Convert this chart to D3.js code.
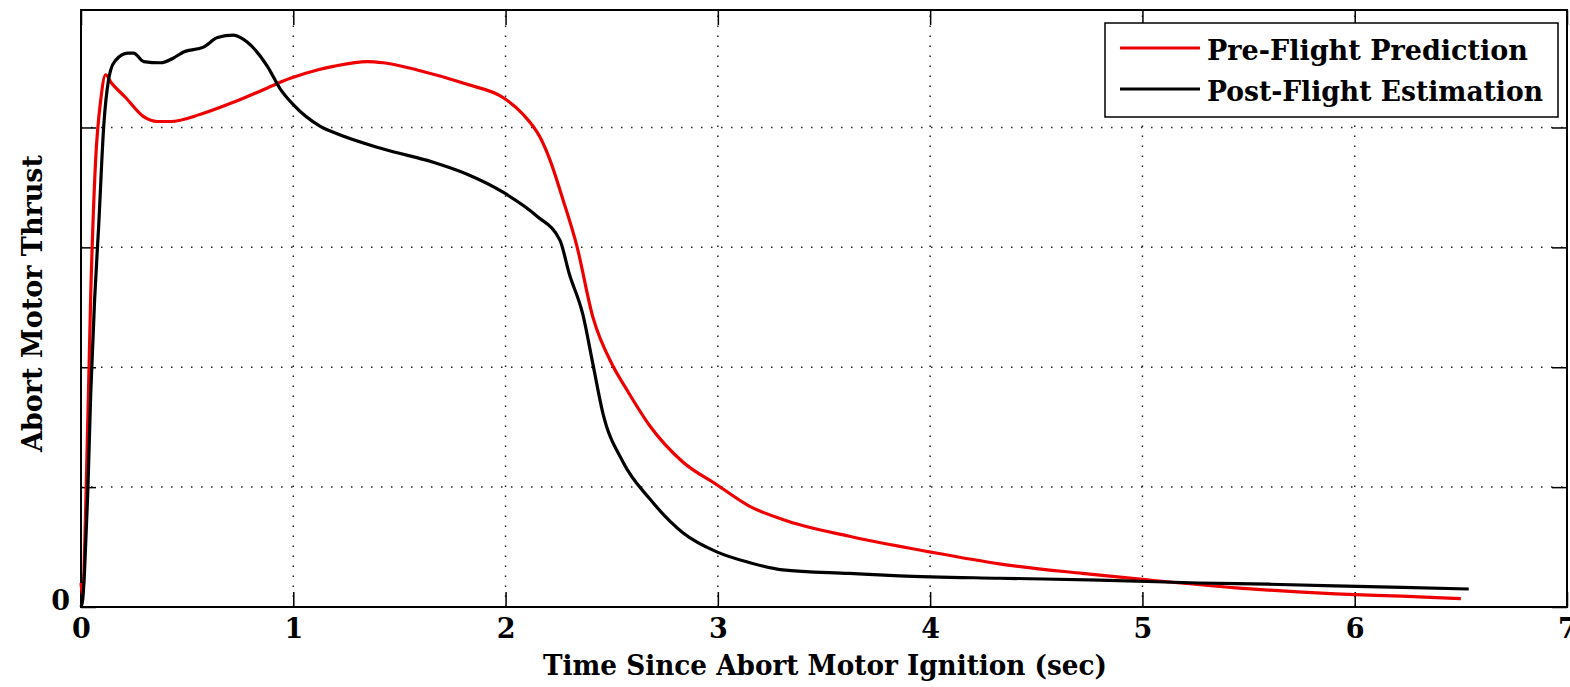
<!DOCTYPE html>
<html>
<head>
<meta charset="utf-8">
<script src="https://cdn.jsdelivr.net/npm/d3@7"></script>
<style>
  body { margin: 0; background: #fff; }
  text { font-family: "DejaVu Serif", "Liberation Serif", serif; font-weight: bold; fill: #000; }
</style>
</head>
<body>
<script>
// chart size
const W = 1570;
const H = 687;
const margin = { left: 81, right: 3, top: 10, bottom: 80 };

// Pre-Flight Prediction (time sec, thrust)
const preTime = [0.0, 0.008, 0.022, 0.046, 0.069, 0.093, 0.116, 0.140, 0.210, 0.295, 0.360, 0.422, 0.563, 0.718, 0.878, 0.986, 1.113, 1.189, 1.348, 1.424, 1.584, 1.819, 1.988, 2.082, 2.162, 2.209, 2.270, 2.336, 2.411, 2.506, 2.572, 2.680, 2.835, 2.995, 3.150, 3.305, 3.620, 3.997, 4.326, 4.717, 5.0, 5.44, 5.91, 6.22, 6.50];
const preThrust = [0.2, 0.11, 0.81, 2.62, 3.73, 4.23, 4.44, 4.38, 4.25, 4.09, 4.05, 4.05, 4.11, 4.21, 4.33, 4.41, 4.48, 4.51, 4.55, 4.54, 4.48, 4.36, 4.25, 4.11, 3.92, 3.73, 3.40, 3.01, 2.42, 2.01, 1.81, 1.51, 1.21, 1.02, 0.84, 0.73, 0.59, 0.46, 0.36, 0.28, 0.23, 0.16, 0.11, 0.09, 0.07];

// Post-Flight Estimation (time sec, thrust)
const postTime = [0.0, 0.008, 0.017, 0.032, 0.046, 0.064, 0.083, 0.107, 0.130, 0.140, 0.163, 0.220, 0.248, 0.295, 0.375, 0.436, 0.483, 0.577, 0.643, 0.718, 0.784, 0.878, 0.939, 1.0, 1.127, 1.189, 1.424, 1.659, 1.819, 1.988, 2.148, 2.256, 2.300, 2.364, 2.411, 2.458, 2.553, 2.680, 2.835, 2.995, 3.150, 3.305, 3.620, 3.855, 4.326, 4.796, 5.267, 5.596, 6.066, 6.537];
const postThrust = [0.0, 0.06, 0.31, 0.96, 1.79, 2.56, 3.17, 4.01, 4.40, 4.48, 4.56, 4.62, 4.62, 4.55, 4.54, 4.58, 4.63, 4.67, 4.75, 4.77, 4.71, 4.51, 4.32, 4.19, 4.01, 3.96, 3.82, 3.71, 3.61, 3.46, 3.26, 3.06, 2.78, 2.44, 2.03, 1.62, 1.21, 0.90, 0.62, 0.46, 0.37, 0.31, 0.28, 0.26, 0.24, 0.225, 0.20, 0.19, 0.17, 0.15];

const xTicks = [0, 1, 2, 3, 4, 5, 6, 7];
const yTicks = [0, 1, 2, 3, 4];
const yLabels = ["0"];
const seriesNames = ["Pre-Flight Prediction", "Post-Flight Estimation"];
const seriesColors = ["#ee0000", "#000000"];

const svg = d3.select("body").append("svg").attr("width", W).attr("height", H);

const x = d3.scaleLinear().domain([0, 7]).range([margin.left, W - margin.right]);
const y = d3.scaleLinear().domain([0, 4.98]).range([H - margin.bottom, margin.top]);

const x0 = x(0), x1 = x(7), y0 = y(0), y1 = y(4.98);

// grid (dotted)
const grid = svg.append("g");
grid.selectAll("line.gx")
  .data(xTicks.slice(1, -1))
  .enter()
  .append("line")
  .attr("x1", (d) => x(d)).attr("x2", (d) => x(d))
  .attr("y1", y0).attr("y2", y1)
  .attr("stroke", "#222").attr("stroke-width", 1.5)
  .attr("stroke-dasharray", "1.5,8.5");
grid.selectAll("line.gy")
  .data(yTicks.slice(1))
  .enter()
  .append("line")
  .attr("x1", x0).attr("x2", x1)
  .attr("y1", (d) => y(d)).attr("y2", (d) => y(d))
  .attr("stroke", "#222").attr("stroke-width", 1.5)
  .attr("stroke-dasharray", "1.5,8.5");

// axes, ticks point inward, mirrored on top / right
svg.append("g")
  .attr("transform", `translate(0,${y0})`)
  .call(d3.axisBottom(x).tickValues(xTicks).tickSize(-15).tickPadding(26).tickFormat(d3.format("d")))
  .call((g) => g.select(".domain").remove())
  .call((g) => g.selectAll("text").attr("font-size", 27).attr("dy", "0.2em"));
svg.append("g")
  .attr("transform", `translate(0,${y1})`)
  .call(d3.axisTop(x).tickValues(xTicks).tickSize(-15).tickFormat(""))
  .call((g) => g.select(".domain").remove());
svg.append("g")
  .attr("transform", `translate(${x0},0)`)
  .call(d3.axisLeft(y).tickValues(yTicks).tickSize(-15).tickPadding(11)
    .tickFormat((d, i) => yLabels[i] || ""))
  .call((g) => g.select(".domain").remove())
  .call((g) => g.selectAll("text").attr("font-size", 27).attr("dy", "0.1em"));
svg.append("g")
  .attr("transform", `translate(${x1},0)`)
  .call(d3.axisRight(y).tickValues(yTicks).tickSize(-15).tickFormat(""))
  .call((g) => g.select(".domain").remove());
svg.selectAll(".tick line").attr("stroke", "#000").attr("stroke-width", 1.5);

// frame
svg.append("rect")
  .attr("x", x0).attr("y", y1)
  .attr("width", x1 - x0).attr("height", y0 - y1)
  .attr("fill", "none").attr("stroke", "#000").attr("stroke-width", 2);

// curves
const line = d3.line().x((d) => x(d[0])).y((d) => y(d[1])).curve(d3.curveMonotoneX);
const series = [
  d3.zip(preTime, preThrust),
  d3.zip(postTime, postThrust)
];
svg.selectAll("path.curve")
  .data(series)
  .enter()
  .append("path")
  .attr("class", "curve")
  .attr("d", line)
  .attr("fill", "none")
  .attr("stroke", (d, i) => seriesColors[i])
  .attr("stroke-width", 3.2)
  .attr("stroke-linejoin", "round");

// legend
const lg = svg.append("g");
lg.append("rect")
  .attr("x", 1105).attr("y", 23).attr("width", 453).attr("height", 94)
  .attr("fill", "#fff").attr("stroke", "#000").attr("stroke-width", 1.5);
const legendWidths = [321, 336];
seriesNames.forEach((name, i) => {
  const ly = 48 + i * 41;
  lg.append("line")
    .attr("x1", 1120).attr("x2", 1200).attr("y1", ly).attr("y2", ly)
    .attr("stroke", seriesColors[i]).attr("stroke-width", 3.2);
  lg.append("text")
    .attr("x", 1207).attr("y", ly + 12)
    .attr("font-size", 27)
    .attr("textLength", legendWidths[i])
    .attr("lengthAdjust", "spacingAndGlyphs")
    .text(name);
});

// axis titles
svg.append("text")
  .attr("x", 543).attr("y", 675)
  .attr("font-size", 28)
  .attr("textLength", 564)
  .attr("lengthAdjust", "spacingAndGlyphs")
  .text("Time Since Abort Motor Ignition (sec)");
svg.append("text")
  .attr("transform", "translate(42,452) rotate(-90)")
  .attr("font-size", 28)
  .attr("textLength", 297)
  .attr("lengthAdjust", "spacingAndGlyphs")
  .text("Abort Motor Thrust");
</script>
</body>
</html>
